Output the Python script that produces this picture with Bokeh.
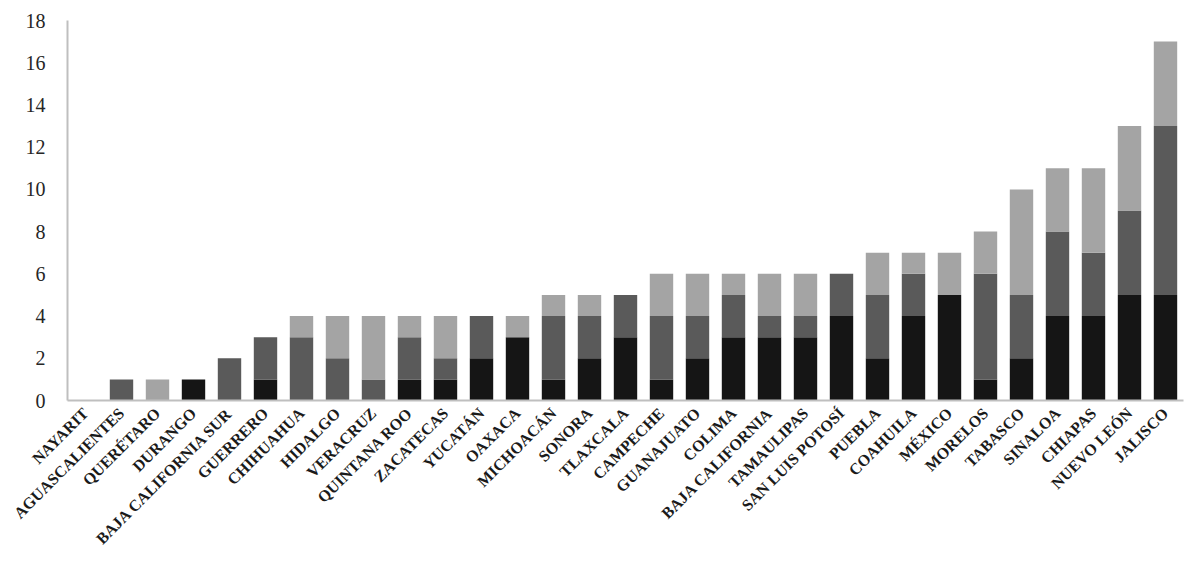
import math
from bokeh.plotting import figure
from bokeh.models import ColumnDataSource, FactorRange, Range1d, FixedTicker
from bokeh.embed import file_html
from bokeh.resources import INLINE

states = ["NAYARIT", "AGUASCALIENTES", "QUERÉTARO", "DURANGO", "BAJA CALIFORNIA SUR",
          "GUERRERO", "CHIHUAHUA", "HIDALGO", "VERACRUZ", "QUINTANA ROO", "ZACATECAS",
          "YUCATÁN", "OAXACA", "MICHOACÁN", "SONORA", "TLAXCALA", "CAMPECHE", "GUANAJUATO",
          "COLIMA", "BAJA CALIFORNIA", "TAMAULIPAS", "SAN LUIS POTOSÍ", "PUEBLA", "COAHUILA",
          "MÉXICO", "MORELOS", "TABASCO", "SINALOA", "CHIAPAS", "NUEVO LEÓN", "JALISCO"]
serie_a = [0, 0, 0, 1, 0, 1, 0, 0, 0, 1, 1, 2, 3, 1, 2, 3, 1, 2, 3, 3, 3, 4, 2, 4, 5, 1, 2, 4, 4, 5, 5]
serie_b = [0, 1, 0, 0, 2, 2, 3, 2, 1, 2, 1, 2, 0, 3, 2, 2, 3, 2, 2, 1, 1, 2, 3, 2, 0, 5, 3, 4, 3, 4, 8]
serie_c = [0, 0, 1, 0, 0, 0, 1, 2, 3, 1, 2, 0, 1, 1, 1, 0, 2, 2, 1, 2, 2, 0, 2, 1, 2, 2, 5, 3, 4, 4, 4]
y_ticks = [0, 2, 4, 6, 8, 10, 12, 14, 16, 18]

keys = ["a", "b", "c"]
colors = ["#151515", "#5a5a5a", "#a4a4a4"]
source = ColumnDataSource(dict(state=states, a=serie_a, b=serie_b, c=serie_c))

p = figure(x_range=FactorRange(*states, range_padding=0), y_range=Range1d(0, 18),
           width=1187, height=567, output_backend="svg", toolbar_location=None,
           min_border_left=67, min_border_top=20, min_border_bottom=167, min_border_right=4)
p.vbar_stack(keys, x="state", width=0.65, color=colors, source=source, line_width=0)

p.outline_line_color = None
p.xgrid.grid_line_color = None
p.ygrid.grid_line_color = None

for ax in (p.xaxis, p.yaxis):
    ax.axis_line_color = "#bfbfbf"
    ax.axis_line_width = 2
    ax.major_tick_line_color = None
    ax.minor_tick_line_color = None

p.yaxis.ticker = FixedTicker(ticks=y_ticks)
p.yaxis.major_label_text_font = "Liberation Serif"
p.yaxis.major_label_text_font_size = "20px"
p.yaxis.major_label_text_color = "#262626"
p.yaxis.major_label_standoff = 16

p.xaxis.major_label_orientation = math.pi / 4
p.xaxis.major_label_text_font = "Liberation Serif"
p.xaxis.major_label_text_font_size = "16px"
p.xaxis.major_label_text_font_style = "bold"
p.xaxis.major_label_text_color = "#1a1a1a"
p.xaxis.major_label_standoff = 4

open("out.html", "w").write(file_html(p, INLINE))
